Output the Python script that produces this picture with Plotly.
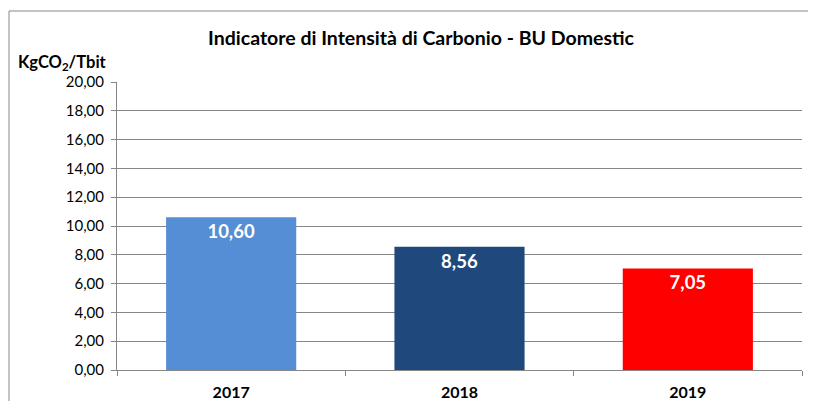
import plotly.graph_objects as go

years = ["2017", "2018", "2019"]
values = [10.60, 8.56, 7.05]
colors = ["#558ed5", "#1f497d", "#ff0000"]
y_ticks = [0, 2, 4, 6, 8, 10, 12, 14, 16, 18, 20]

FONT = "Lato"
OFF = 8  # page body margin
W, H = 816 - OFF, 401 - OFF
L, R, T, B = 117 - OFF, 816 - 802, 82 - OFF, 401 - 370
pw, ph = W - L - R, H - T - B

def px(x):
    return (x - OFF - L) / pw

def py(y):
    return (H - B - (y - OFF)) / ph

fig = go.Figure(go.Bar(
    x=years, y=values,
    marker=dict(color=colors, line=dict(width=0)),
    texttemplate="%{y:.2f}", textposition="inside", insidetextanchor="end",
    textfont=dict(family=FONT, size=18.5, color="white", weight="bold"),
    width=0.57,
))

fig.update_layout(
    width=W, height=H,
    margin=dict(l=L, r=R, t=T, b=B, autoexpand=False),
    paper_bgcolor="white", plot_bgcolor="white",
    separators=",.",
    showlegend=False,
    font=dict(family=FONT, color="#000000"),
    title=dict(text="Indicatore di Intensità di Carbonio - BU Domestic",
               x=px(421), xanchor="center", xref="paper",
               y=1 - (38 - OFF) / H, yanchor="middle",
               font=dict(family=FONT, size=19.5, color="#000000", weight="bold")),
    xaxis=dict(
        automargin=False,
        showgrid=False, showline=True, linecolor="#868686", linewidth=1,
        ticks="outside", ticklen=5, tickcolor="#868686", tickson="boundaries",
        tickfont=dict(family=FONT, size=16, color="#000000", weight="bold"),
        ticklabelstandoff=8,
        fixedrange=True,
    ),
    yaxis=dict(
        automargin=False,
        range=[0, 20], tickvals=y_ticks, tickformat=".2f",
        showgrid=True, gridcolor="#868686", gridwidth=1,
        showline=True, linecolor="#868686", linewidth=1,
        ticks="outside", ticklen=5, tickcolor="#868686",
        tickfont=dict(family=FONT, size=15, color="#000000"),
        ticklabelstandoff=4,
        zeroline=False,
    ),
    annotations=[dict(
        text="KgCO<sub>2</sub>/Tbit", xref="paper", yref="paper",
        x=px(62), y=py(62), xanchor="center", yanchor="middle",
        showarrow=False,
        font=dict(family=FONT, size=16.5, color="#000000", weight="bold"),
    )],
    shapes=[dict(
        type="rect", xref="paper", yref="paper",
        x0=px(9), x1=px(830), y0=py(420), y1=py(11),
        line=dict(color="#898989", width=1), fillcolor="rgba(0,0,0,0)",
        layer="below",
    )],
)

fig.write_html("out.html")
